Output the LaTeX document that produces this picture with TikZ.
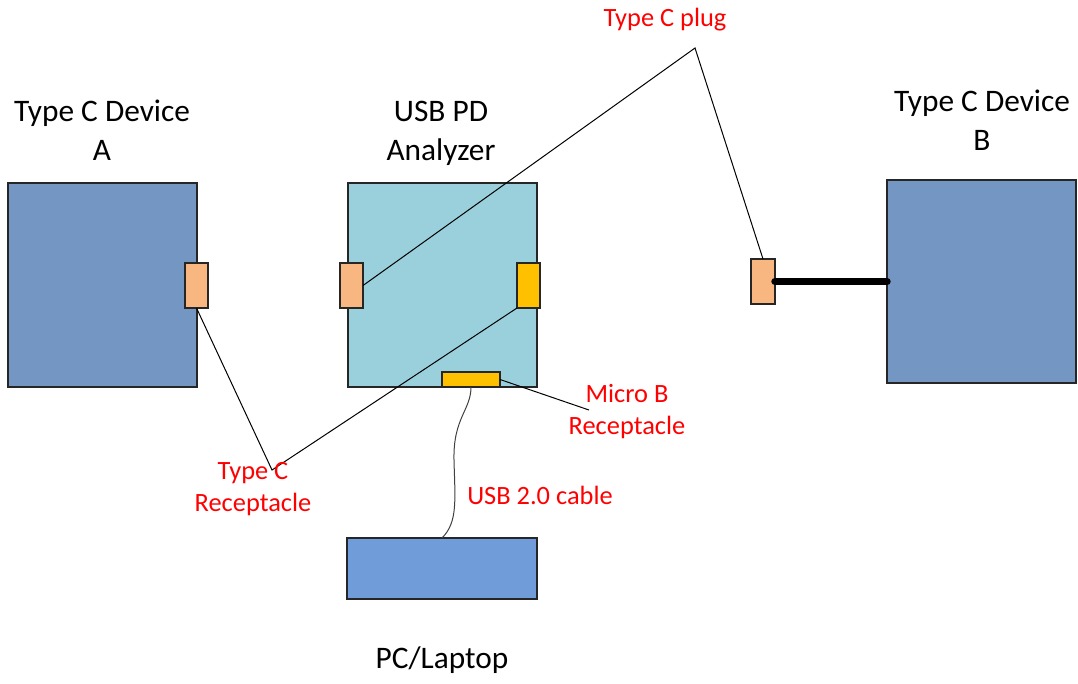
\documentclass[tikz,border=0pt]{standalone}
\usepackage{fontspec}
\setmainfont{Carlito}
\usetikzlibrary{fit}
\definecolor{devblue}{HTML}{7496C2}
\definecolor{anablue}{HTML}{9AD0DC}
\definecolor{pcblue}{HTML}{709CD9}
\definecolor{recorange}{HTML}{F8B780}
\definecolor{recyellow}{HTML}{FFC000}
\definecolor{edge}{HTML}{262626}
\tikzset{
  box/.style={draw=edge, line width=0.8pt, inner sep=0pt, outer sep=0pt},
  devbox/.style={box, fill=devblue},
  anabox/.style={box, fill=anablue},
  pcbox/.style={box, fill=pcblue},
  recbox/.style={box, fill=recorange},
  ubox/.style={box, fill=recyellow},
  title/.style={align=center, font=\fontsize{23.5}{29.25}\selectfont, text=black, inner sep=0pt},
  lbl/.style={align=center, font=\fontsize{19.8}{24}\selectfont, text=red, inner sep=0pt},
  wire/.style={draw=black, line width=0.75pt},
  cable/.style={draw=black!75, line width=0.75pt},
  thick wire/.style={draw=black, line width=5.6pt, line cap=round}
}
\begin{document}
\begin{tikzpicture}[x=0.75pt, y=-0.75pt]
\useasboundingbox (0,0) rectangle (1078,683);
% boxes
\node[devbox, fit={(8,183) (197,387)}] (devA) {};
\node[anabox, fit={(348,183) (537,387)}] (ana) {};
\node[devbox, fit={(887,180) (1076,383)}] (devB) {};
\node[pcbox, fit={(347,538) (537,599)}] (pc) {};
% receptacles / plug
\node[recbox, fit={(185,263) (208,308)}] (recA) {};
\node[recbox, fit={(340,263) (363,308)}] (recL) {};
\node[ubox, fit={(517,263) (540,308)}] (recR) {};
\node[ubox, fit={(442,372) (500,387)}] (microB) {};
\node[recbox, fit={(751,259) (775,304)}] (plug) {};
% label points
\coordinate (vtxR) at (272,470);
\coordinate (vtxP) at (695,48);
\coordinate (mbEnd) at (589,410);
% connectors
\draw[wire] (recA.south) -- (vtxR) -- (recR.south west);
\draw[wire] (recL.east) -- (vtxP) -- (plug.north);
\draw[wire] (microB.east) -- (mbEnd);
\draw[thick wire] (plug.east) -- (devB.west);
\draw[cable] (microB.south) .. controls (471,410) and (453,418) .. (454,460)
  .. controls (455,500) and (458,522) .. (pc.north);
% titles
\node[title] (tA) at (102,130) {Type C Device\\A};
\node[title] (tAna) at (441,133) {USB PD\\Analyzer};
\node[title] (tB) at (982,120) {Type C Device\\B};
\node[title] (tPC) at (442,660) {PC/Laptop};
% red labels
\node[lbl] (lPlug) at (665,20) {Type C plug};
\node[lbl] (lRecC) at (253,489) {Type C\\Receptacle};
\node[lbl] (lMicro) at (627,412) {Micro B\\Receptacle};
\node[lbl] (lUsb) at (540,495) {USB 2.0 cable};
\end{tikzpicture}
\end{document}
